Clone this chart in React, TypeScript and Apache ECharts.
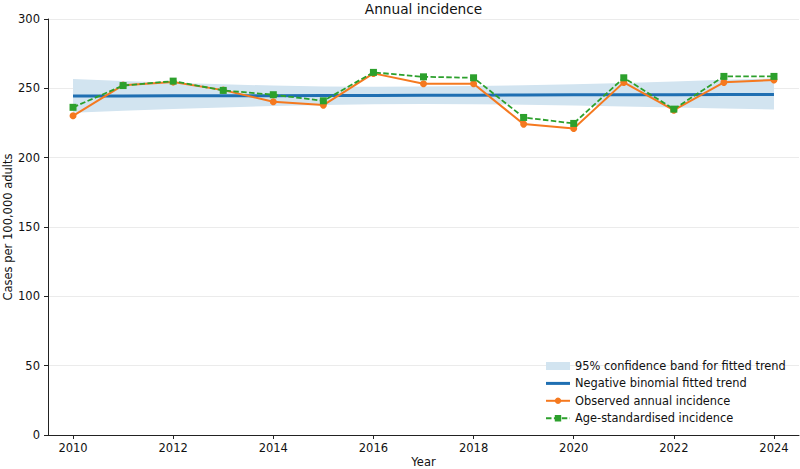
import React, { useEffect, useRef } from "react";
import * as echarts from "echarts";

const years = ["2010","2011","2012","2013","2014","2015","2016","2017","2018","2019","2020","2021","2022","2023","2024"];
const observed = [230.2, 252.3, 254.5, 248.7, 240.3, 237.9, 260.8, 253.3, 253.3, 224.2, 221.1, 254.3, 234.3, 254.3, 256.0];
const ageStd = [236.3, 252.0, 255.2, 248.5, 245.4, 241.0, 261.5, 258.3, 257.6, 229.0, 224.7, 257.6, 235.0, 258.6, 258.6];
const trend = [244.4, 244.5, 244.6, 244.7, 244.7, 244.8, 244.9, 245.0, 245.1, 245.2, 245.3, 245.3, 245.4, 245.5, 245.6];
const bandUpper = [256.7, 255.3, 254.0, 252.9, 252.0, 251.4, 251.2, 251.3, 251.6, 252.2, 253.0, 253.9, 255.0, 256.1, 257.2];
const bandLower = [232.4, 233.8, 235.1, 236.2, 237.3, 238.0, 238.5, 238.7, 238.6, 238.2, 237.6, 236.9, 236.1, 235.4, 234.8];
const yTicks = { min: 0, max: 300, interval: 50 };

const FONT = "DejaVu Sans";
const BAND = "95% confidence band for fitted trend";
const TREND = "Negative binomial fitted trend";
const OBS = "Observed annual incidence";
const AGE = "Age-standardised incidence";

export default function App() {
  const ref = useRef<HTMLDivElement>(null);
  useEffect(() => {
    if (!ref.current) return;
    const chart = echarts.init(ref.current, undefined, { renderer: "svg" });
    const bandWidth = bandUpper.map((u, i) => +(u - bandLower[i]).toFixed(2));
    chart.setOption({
      animation: false,
      textStyle: { fontFamily: FONT },
      grid: { left: 48, right: 1, top: 19, bottom: 34, containLabel: false, outerBoundsMode: "none" },
      graphic: [
        {
          type: "text",
          x: 423.5,
          y: 9,
          style: {
            text: "Annual incidence",
            align: "center",
            verticalAlign: "middle",
            fontSize: 13.7,
            fontFamily: FONT,
            fill: "#111",
          },
        },
      ],
      legend: {
        orient: "vertical",
        left: 540,
        top: 355,
        itemWidth: 24,
        itemHeight: 8,
        itemGap: 5.4,
        textStyle: { fontSize: 11.4, fontFamily: FONT, color: "#111", lineHeight: 12 },
        data: [
          { name: BAND, icon: "rect", itemStyle: { color: "#d2e4f0" } },
          { name: TREND, icon: "path://M0,0 H24 V3 H0 Z", itemStyle: { color: "#1f6fb2" } },
          { name: OBS },
          { name: AGE },
        ],
      },
      xAxis: {
        type: "category",
        data: years,
        boundaryGap: true,
        name: "Year",
        nameLocation: "middle",
        nameGap: 21,
        nameMoveOverlap: false,
        nameTextStyle: { fontSize: 11.5, color: "#111", fontFamily: FONT, verticalAlign: "top" },
        axisLine: { show: true, lineStyle: { color: "#222", width: 1 } },
        axisTick: { show: true, alignWithLabel: true, interval: 1, length: 4, lineStyle: { color: "#222" } },
        axisLabel: { interval: 1, fontSize: 11.5, color: "#111", margin: 7, fontFamily: FONT },
        splitLine: { show: false },
      },
      yAxis: {
        type: "value",
        min: yTicks.min,
        max: yTicks.max,
        interval: yTicks.interval,
        name: "Cases per 100,000 adults",
        nameLocation: "middle",
        nameGap: 40,
        nameMoveOverlap: false,
        nameTextStyle: { fontSize: 11.5, color: "#111", fontFamily: FONT, verticalAlign: "middle" },
        axisLine: { show: true, lineStyle: { color: "#222", width: 1 } },
        axisTick: { show: true, length: 4, lineStyle: { color: "#222" } },
        axisLabel: { fontSize: 11.5, color: "#111", margin: 8, fontFamily: FONT },
        splitLine: { show: true, lineStyle: { color: "#ebebeb", width: 1 } },
      },
      series: [
        {
          name: "bandBase",
          type: "line",
          data: bandLower,
          stack: "band",
          symbol: "none",
          lineStyle: { opacity: 0 },
          silent: true,
          z: 1,
        },
        {
          name: BAND,
          type: "line",
          data: bandWidth,
          stack: "band",
          symbol: "none",
          color: "#d2e4f0",
          lineStyle: { opacity: 0 },
          areaStyle: { color: "#d2e4f0", opacity: 1 },
          silent: true,
          z: 1,
        },
        {
          name: TREND,
          type: "line",
          data: trend,
          symbol: "none",
          color: "#1f6fb2",
          lineStyle: { color: "#1f6fb2", width: 3 },
          z: 2,
        },
        {
          name: OBS,
          type: "line",
          data: observed,
          symbol: "circle",
          symbolSize: 7,
          color: "#f5791f",
          lineStyle: { color: "#f5791f", width: 2 },
          itemStyle: { color: "#f5791f" },
          z: 3,
        },
        {
          name: AGE,
          type: "line",
          data: ageStd,
          symbol: "rect",
          symbolSize: 7,
          color: "#2ca02c",
          lineStyle: { color: "#2ca02c", width: 1.8, type: [5.5, 2.4] },
          itemStyle: { color: "#2ca02c" },
          z: 4,
        },
      ],
    });
    return () => chart.dispose();
  }, []);
  return (
    <div
      ref={ref}
      style={{ position: "fixed", left: 0, top: 0, width: 800, height: 469, background: "#fff" }}
    />
  );
}
